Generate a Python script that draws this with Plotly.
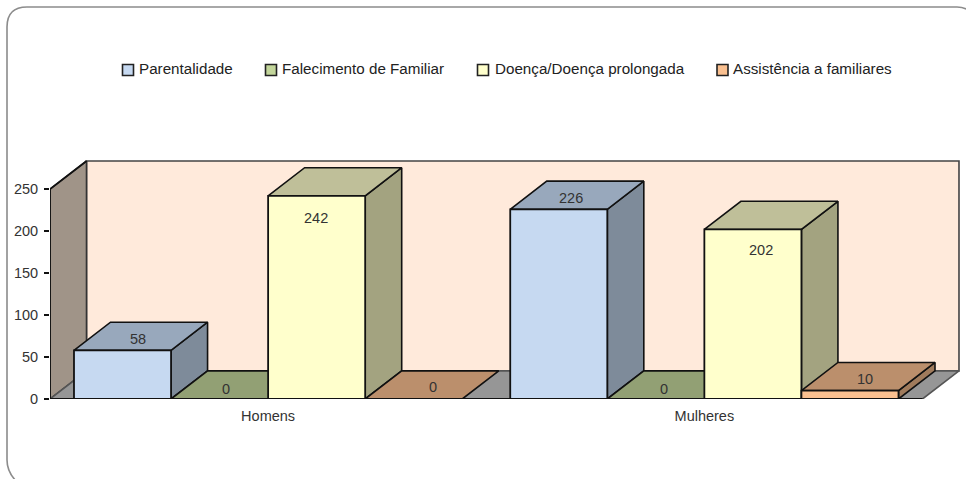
import plotly.graph_objects as go

categories = ["Homens", "Mulheres"]
series_names = ["Parentalidade", "Falecimento de Familiar", "Doença/Doença prolongada", "Assistência a familiares"]
parentalidade = [58, 226]
falecimento = [0, 0]
doenca = [242, 202]
assistencia = [0, 10]
y_ticks = [0, 50, 100, 150, 200, 250]

# front / top / side colours of the fake 3D boxes
FRONT = ["#c6d9f1", "#c3d69b", "#ffffcc", "#fac090"]
TOP = ["#98a8bc", "#92a074", "#bfbf99", "#bb8f6c"]
SIDE = ["#7e8b9a", "#7d8963", "#a3a380", "#a07b5c"]

# depth of the box in data units
DX = 0.0837
DY = 33.5
BAR_W = 0.2225
# a little slack past the back wall so its outline is not clipped
X_RANGE = [-0.5, 1.5 + DX + 0.0046]
Y_RANGE = [0, 250 + DY + 2.4]

# label nudges in px, one per bar, from the picture
LABEL_SHIFT = {
    0: [(15.5, 11), (6.5, 10), (-0.5, -22), (19.5, 12)],
    1: [(12.5, 11), (8.5, 10), (8.5, -21), (15, 12)],
}
# hand placed legend, px from the left of the page
LEGEND_SWATCH_X = [122.5, 265.5, 477.5, 717]
LEGEND_TEXT_X = [137.5, 281, 494, 731.5]
EDGE = "#111111"
TEXT = "#333333"
FONT = "Liberation Sans"

all_values = [parentalidade, falecimento, doenca, assistencia]

M_L, M_R, M_T, M_B = 50, 5, 159, 80
W, H = 966, 479
PW, PH = W - M_L - M_R, H - M_T - M_B

fig = go.Figure()


def poly(xs, ys, fill, line=EDGE, width=1.6):
    fig.add_trace(go.Scatter(
        x=xs + xs[:1], y=ys + ys[:1], mode="lines", fill="toself", fillcolor=fill,
        line=dict(color=line, width=width), showlegend=False, hoverinfo="skip", cliponaxis=False,
    ))


# walls and floor
x0, x1 = X_RANGE[0], 1.5
x_back = x1 + DX
poly([x0 + DX, x_back, x_back, x0 + DX], [DY, DY, 250 + DY, 250 + DY], "#ffeadb", "#444444")
poly([x0, x0 + DX, x0 + DX, x0], [0, DY, 250 + DY, 250], "#a09488", "#333333")
poly([x0, x1, x_back, x0 + DX], [0, 0, DY, DY], "#969696", "#555555")

# left edge and baseline are heavier in the picture
fig.add_trace(go.Scatter(
    x=[x0 + DX, x0, x0, x1], y=[250 + DY, 250, 0, 0], mode="lines",
    line=dict(color=EDGE, width=1.8), showlegend=False, hoverinfo="skip", cliponaxis=False,
))

# tops and sides, left to right
for g in range(len(categories)):
    for s in range(len(series_names)):
        v = all_values[s][g]
        left = g + (s - 2) * BAR_W
        right = left + BAR_W
        if v > 0:
            poly([right, right + DX, right + DX, right], [0, DY, v + DY, v], SIDE[s])
        poly([left, right, right + DX, left + DX], [v, v, v + DY, v + DY], TOP[s])

# real bars sit on an overlay so their fronts hide the faces behind them
for s, name in enumerate(series_names):
    fig.add_trace(go.Bar(
        x=list(range(len(categories))), y=all_values[s], name=name, xaxis="x2", yaxis="y2",
        marker=dict(color=FRONT[s], line=dict(color=EDGE, width=1.8)), hoverinfo="skip",
        showlegend=False,
    ))

annotations = []
for g in range(len(categories)):
    for s in range(len(series_names)):
        dx, dy = LABEL_SHIFT[g][s]
        annotations.append(dict(
            x=g + (s - 1.5) * BAR_W, y=all_values[s][g], xref="x2", yref="y2",
            text=str(all_values[s][g]), showarrow=False, xshift=dx, yshift=dy,
            font=dict(family=FONT, size=14.5, color=TEXT),
        ))


def px_x(px):
    return (px - M_L) / PW


def px_y(py):
    return (H - M_B - py) / PH


def pp(px, py):
    return f"{px_x(px):.5f},{px_y(py):.5f}"


# rounded slide panel behind the chart
panel = (
    f"M {pp(17, 482)} Q {pp(7, 472)} {pp(7, 460)} L {pp(7, 27)} Q {pp(7, 7)} {pp(27, 7)} "
    f"L {pp(957, 7)} Q {pp(963, 7)} {pp(968, 10)}"
)
shapes = [dict(type="path", path=panel, xref="paper", yref="paper", layer="below",
               line=dict(color="#8c8c8c", width=1.6))]

# legend: the native one cannot get this tight a swatch gap
for s, name in enumerate(series_names):
    shapes.append(dict(
        type="rect", xref="paper", yref="paper",
        x0=px_x(LEGEND_SWATCH_X[s]), x1=px_x(LEGEND_SWATCH_X[s] + 11),
        y0=px_y(75.5), y1=px_y(64.5),
        fillcolor=FRONT[s], line=dict(color="#222222", width=1.6),
    ))
    annotations.append(dict(
        x=px_x(LEGEND_TEXT_X[s]), y=px_y(68.5), xref="paper", yref="paper",
        text=name, showarrow=False, xanchor="left", yanchor="middle", xshift=-1,
        font=dict(family=FONT, size=15.2, color="#222222"),
    ))

fig.update_layout(
    width=W, height=H, margin=dict(l=M_L, r=M_R, t=M_T, b=M_B, pad=0),
    paper_bgcolor="white", plot_bgcolor="rgba(0,0,0,0)",
    barmode="group", bargap=0.11, bargroupgap=0, showlegend=False,
    font=dict(family=FONT, size=14.5, color=TEXT),
    xaxis=dict(
        range=X_RANGE, tickvals=list(range(len(categories))), ticktext=categories,
        showgrid=False, zeroline=False, showline=False, ticks="", ticklabelstandoff=6,
        tickfont=dict(family=FONT, size=14.5, color=TEXT),
    ),
    yaxis=dict(
        range=Y_RANGE, tickvals=y_ticks, showgrid=False, zeroline=False, showline=False,
        ticks="outside", ticklen=5, tickwidth=1.5, tickcolor=EDGE, ticklabelstandoff=3,
        tickfont=dict(family=FONT, size=14.5, color=TEXT),
    ),
    xaxis2=dict(range=X_RANGE, overlaying="x", visible=False),
    yaxis2=dict(range=Y_RANGE, overlaying="y", visible=False),
    annotations=annotations,
    shapes=shapes,
)

fig.write_html("out.html", config={"displayModeBar": False}, post_script="document.body.style.margin='0';")
